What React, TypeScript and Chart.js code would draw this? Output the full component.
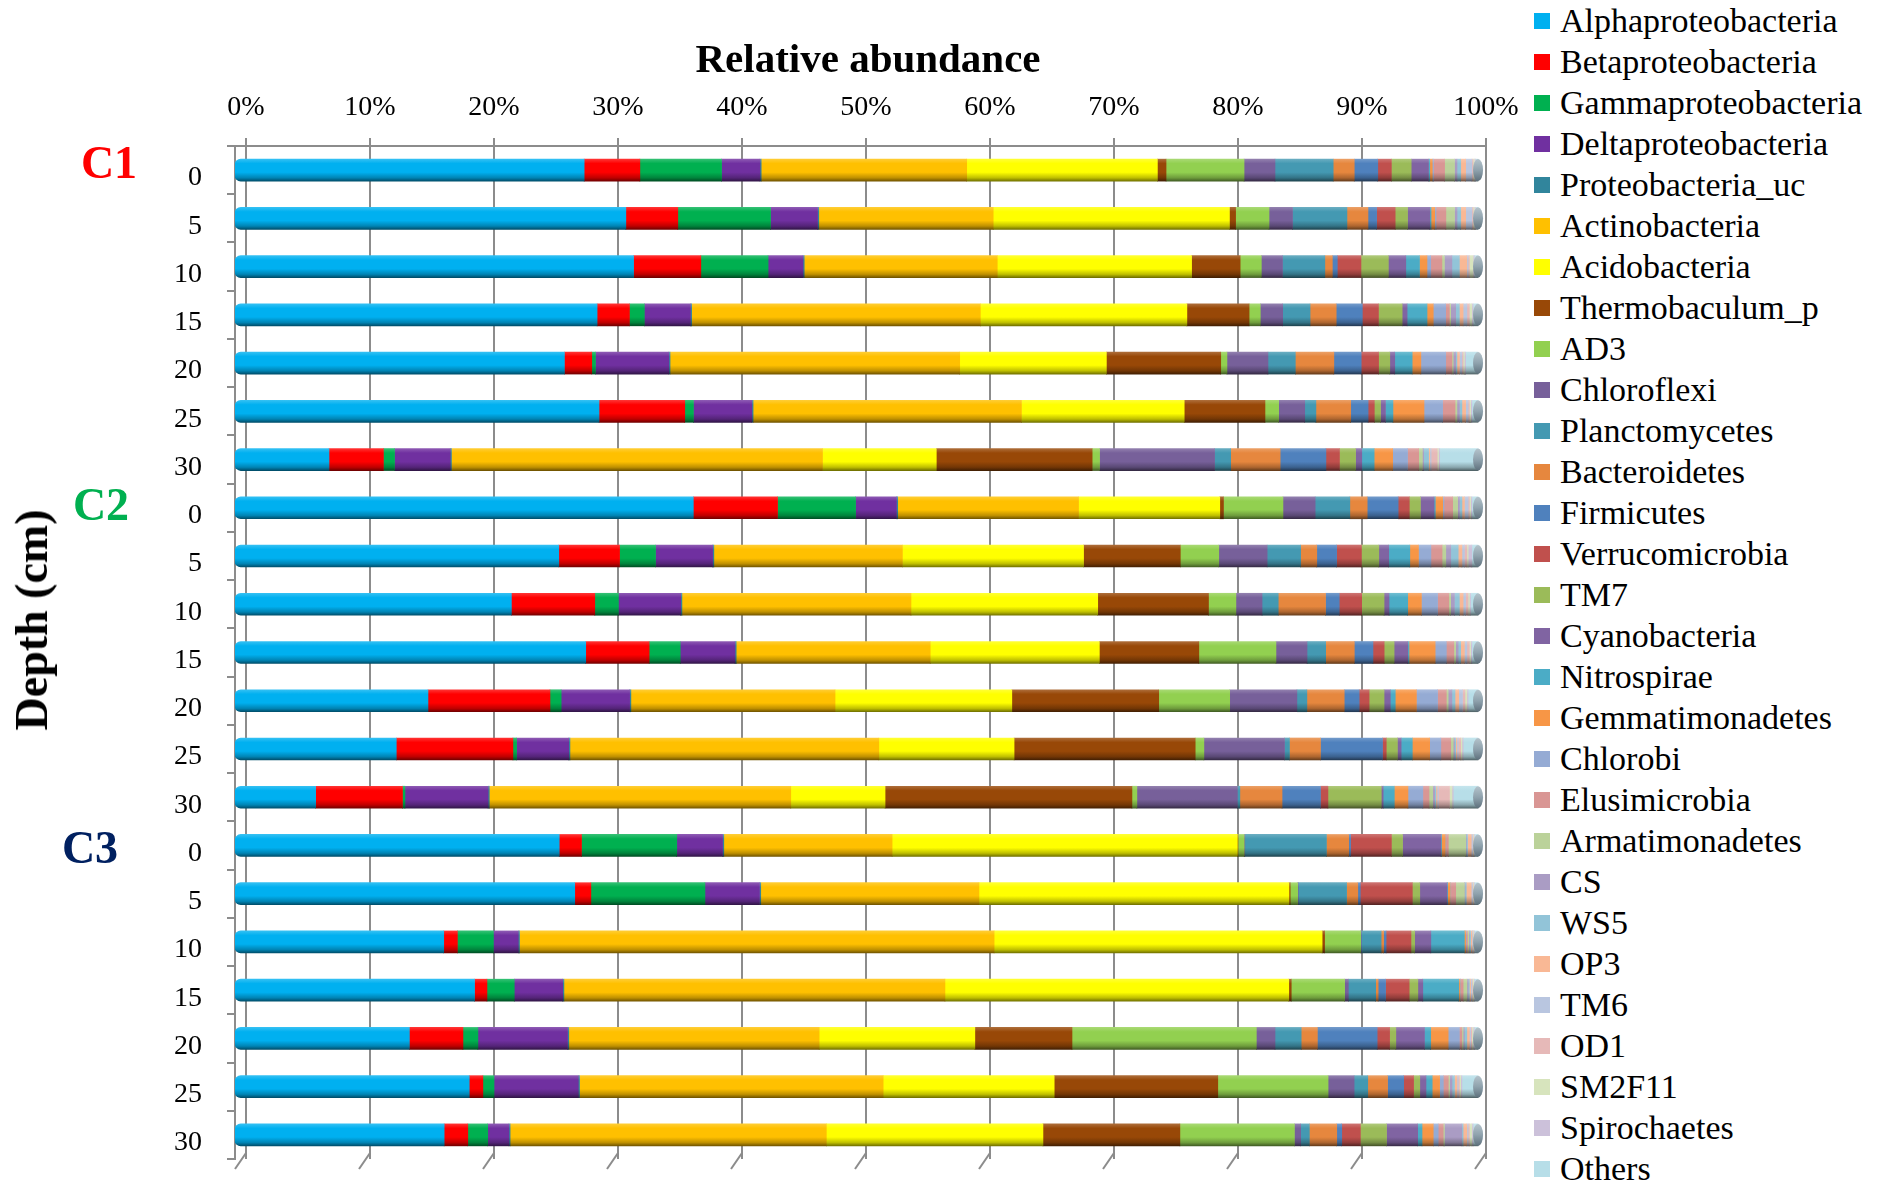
import React, { useEffect, useRef } from "react";
import { Chart, registerables } from "chart.js";

Chart.register(...registerables);

// ---------- data ----------
const depthLabels = ["0", "5", "10", "15", "20", "25", "30", "0", "5", "10", "15", "20", "25", "30", "0", "5", "10", "15", "20", "25", "30"];
const coreNames = ["C1", "C2", "C3"];
const coreColors = ["#FF0000", "#00B050", "#002060"];
const tickValues = [0, 10, 20, 30, 40, 50, 60, 70, 80, 90, 100];

const seriesNames = [
  "Alphaproteobacteria", "Betaproteobacteria", "Gammaproteobacteria", "Deltaproteobacteria",
  "Proteobacteria_uc", "Actinobacteria", "Acidobacteria", "Thermobaculum_p", "AD3", "Chloroflexi",
  "Planctomycetes", "Bacteroidetes", "Firmicutes", "Verrucomicrobia", "TM7", "Cyanobacteria",
  "Nitrospirae", "Gemmatimonadetes", "Chlorobi", "Elusimicrobia", "Armatimonadetes", "CS", "WS5",
  "OP3", "TM6", "OD1", "SM2F11", "Spirochaetes", "Others",
];
const seriesColors = [
  "#00B0F0", "#FF0000", "#00B050", "#7030A0", "#31859C", "#FFC000", "#FFFF00", "#984807", "#92D050",
  "#77609A", "#4499B2", "#E6873E", "#4F81BD", "#C0504D", "#9BBB59", "#8064A2", "#4BACC6", "#F79646",
  "#95ABD4", "#D99694", "#BBD29A", "#AA9CC4", "#92C4D8", "#F9B895", "#B9C6E0", "#E6B9B8", "#D7E4BD",
  "#CCC1DA", "#B7DEE8",
];

const alpha = [28.2, 31.6, 32.0, 29.1, 26.5, 29.3, 7.6, 37.0, 26.1, 22.2, 28.2, 15.5, 13.0, 6.5, 26.2, 27.4, 16.8, 19.3, 14.0, 18.9, 16.8];
const beta = [4.5, 4.2, 5.4, 2.6, 2.2, 6.9, 4.4, 6.8, 4.9, 6.7, 5.1, 9.8, 9.4, 7.0, 1.8, 1.3, 1.1, 1.0, 4.3, 1.1, 1.9];
const gamma = [6.6, 7.5, 5.4, 1.2, 0.3, 0.7, 0.9, 6.3, 2.9, 1.9, 2.5, 0.9, 0.3, 0.2, 7.7, 9.2, 2.9, 2.2, 1.2, 0.9, 1.6];
const delta = [3.1, 3.8, 2.8, 3.7, 5.9, 4.7, 4.5, 3.3, 4.6, 5.0, 4.4, 5.5, 4.2, 6.7, 3.7, 4.4, 2.0, 3.9, 7.2, 6.8, 1.7];
const proteoUc = [0.1, 0.1, 0.1, 0.1, 0.1, 0.1, 0.1, 0.1, 0.1, 0.1, 0.1, 0.1, 0.1, 0.1, 0.1, 0.1, 0.1, 0.1, 0.1, 0.1, 0.1];
const actino = [16.6, 14.1, 15.5, 23.2, 23.3, 21.6, 30.0, 14.6, 15.2, 18.4, 15.6, 16.4, 24.9, 24.3, 13.6, 17.6, 38.2, 30.7, 20.1, 24.5, 25.4];
const acido = [15.4, 19.1, 15.6, 16.6, 11.8, 13.1, 9.2, 11.4, 14.6, 15.0, 13.6, 14.2, 10.9, 7.6, 27.9, 25.0, 26.4, 27.7, 12.5, 13.8, 17.4];
const thermo = [0.7, 0.5, 3.9, 5.0, 9.2, 6.5, 12.6, 0.3, 7.8, 8.9, 8.0, 11.8, 14.6, 19.9, 0.05, 0.1, 0.2, 0.2, 7.8, 13.2, 11.0];
const ad3 = [6.3, 2.7, 1.7, 0.9, 0.5, 1.1, 0.6, 4.8, 3.1, 2.2, 6.2, 5.7, 0.7, 0.4, 0.5, 0.6, 2.9, 4.3, 14.8, 8.9, 9.2];
const chloroflexi = [2.5, 1.9, 1.7, 1.8, 3.3, 2.1, 9.3, 2.6, 3.9, 2.1, 2.5, 5.4, 6.5, 8.1, 0.05, 0.05, 0.05, 0.3, 1.5, 2.1, 0.5];
const plancto = [4.7, 4.4, 3.4, 2.2, 2.2, 0.9, 1.3, 2.8, 2.7, 1.3, 1.5, 0.8, 0.4, 0.2, 6.6, 3.9, 1.6, 2.2, 2.1, 1.1, 0.7];
const bactero = [1.7, 1.7, 0.6, 2.1, 3.1, 2.8, 4.0, 1.4, 1.3, 3.8, 2.3, 3.0, 2.5, 3.4, 1.8, 0.9, 0.2, 0.2, 1.3, 1.6, 2.2];
const firmi = [1.9, 0.7, 0.4, 2.1, 2.2, 1.4, 3.7, 2.5, 1.6, 1.1, 1.5, 1.2, 5.0, 3.1, 0.15, 0.2, 0.2, 0.6, 4.8, 1.3, 0.4];
const verruco = [1.1, 1.5, 1.9, 1.3, 1.4, 0.5, 1.1, 0.9, 2.0, 1.8, 0.9, 0.8, 0.3, 0.6, 3.3, 4.2, 2.0, 1.9, 1.0, 0.8, 1.5];
const tm7 = [1.6, 1.0, 2.2, 1.9, 0.9, 0.5, 1.3, 0.9, 1.4, 1.8, 0.8, 1.2, 0.9, 4.3, 0.9, 0.6, 0.3, 0.7, 0.5, 0.5, 2.1];
const cyano = [1.4, 1.8, 1.4, 0.4, 0.4, 0.4, 0.5, 1.1, 0.8, 0.4, 1.1, 0.5, 0.3, 0.15, 3.1, 2.2, 1.3, 0.4, 2.3, 0.5, 2.5];
const nitro = [0.1, 0.1, 1.1, 1.6, 1.4, 0.6, 1.0, 0.1, 1.7, 1.5, 0.1, 0.4, 0.9, 0.9, 0.05, 0.05, 2.7, 2.9, 0.5, 0.5, 0.35];
const gemma = [0.2, 0.3, 0.6, 0.5, 0.7, 2.5, 1.5, 0.6, 0.7, 1.1, 2.1, 1.7, 1.4, 1.1, 0.3, 0.2, 0.1, 0.1, 1.4, 0.6, 0.9];
const chlorobi = [0.1, 0.1, 0.3, 1.0, 2.0, 1.5, 1.2, 0.1, 1.0, 1.3, 0.9, 1.7, 0.9, 1.2, 0.05, 0.05, 0.05, 0.05, 0.9, 0.3, 0.4];
const elusi = [0.9, 0.8, 0.9, 0.3, 0.5, 1.0, 0.9, 0.7, 0.9, 0.9, 0.6, 0.7, 0.8, 0.5, 0.2, 0.4, 0.1, 0.2, 0.2, 0.4, 0.4];
const armat = [0.8, 0.7, 0.2, 0.1, 0.1, 0.15, 0.3, 0.4, 0.3, 0.15, 0.15, 0.15, 0.2, 0.3, 1.4, 0.7, 0.1, 0.3, 0.1, 0.1, 0.1];
const cs = [0.2, 0.2, 0.6, 0.4, 0.2, 0.2, 0.1, 0.15, 0.4, 0.3, 0.2, 0.3, 0.1, 0.15, 0.05, 0.05, 0.05, 0.1, 0.1, 0.2, 1.4];
const ws5 = [0.3, 0.3, 0.6, 0.3, 0.1, 0.2, 0.4, 0.2, 0.6, 0.4, 0.2, 0.25, 0.1, 0.1, 0.1, 0.1, 0.1, 0.1, 0.2, 0.2, 0.1];
const op3 = [0.4, 0.4, 0.6, 0.3, 0.2, 0.3, 0.1, 0.2, 0.3, 0.3, 0.3, 0.3, 0.1, 0.1, 0.3, 0.4, 0.1, 0.1, 0.2, 0.2, 0.3];
const tm6 = [0.5, 0.5, 0.1, 0.3, 0.2, 0.2, 0.1, 0.3, 0.2, 0.2, 0.2, 0.3, 0.1, 0.1, 0.1, 0.1, 0.05, 0.1, 0.1, 0.1, 0.1];
const od1 = [0.1, 0.1, 0.1, 0.2, 0.1, 0.1, 0.5, 0.1, 0.2, 0.2, 0.2, 0.2, 0.2, 0.9, 0.05, 0.05, 0.05, 0.05, 0.1, 0.1, 0.1];
const sm2f11 = [0.1, 0.1, 0.3, 0.2, 0.1, 0.1, 0.1, 0.1, 0.1, 0.1, 0.1, 0.15, 0.1, 0.2, 0.05, 0.05, 0.05, 0.1, 0.1, 0.1, 0.2];
const spiro = [0.1, 0.1, 0.1, 0.1, 0.1, 0.1, 0.1, 0.1, 0.3, 0.1, 0.1, 0.1, 0.1, 0.1, 0.05, 0.05, 0.05, 0.05, 0.1, 0.1, 0.1];
const others = [0.2, 0.2, 0.3, 0.4, 1.0, 0.5, 3.1, 0.5, 0.5, 0.6, 0.5, 0.8, 1.2, 2.0, 0.3, 0.3, 0.3, 0.3, 0.3, 1.3, 0.4];

const seriesValues = [
  alpha, beta, gamma, delta, proteoUc, actino, acido, thermo, ad3, chloroflexi, plancto, bactero,
  firmi, verruco, tm7, cyano, nitro, gemma, chlorobi, elusi, armat, cs, ws5, op3, tm6, od1, sm2f11,
  spiro, others,
];

// ---------- style helpers ----------
const SERIF = "'Liberation Serif', 'Times New Roman', serif";

function mix(hex: string, target: string, t: number): string {
  const p = (h: string) => [1, 3, 5].map((i) => parseInt(h.slice(i, i + 2), 16));
  const a = p(hex);
  const b = p(target);
  const c = a.map((v, i) => Math.round(v + (b[i] - v) * t));
  return "rgb(" + c.join(",") + ")";
}

function shaded(c: any, base: string): any {
  const chart = c.chart;
  const ys = chart.scales && chart.scales.y;
  if (!ys || c.type !== "data" || !chart.chartArea) return base;
  const yc = ys.getPixelForValue(c.dataIndex);
  const h = 11;
  const g = chart.ctx.createLinearGradient(0, yc - h, 0, yc + h);
  g.addColorStop(0, mix(base, "#ffffff", 0.2));
  g.addColorStop(0.2, base);
  g.addColorStop(0.6, base);
  g.addColorStop(0.85, mix(base, "#000000", 0.25));
  g.addColorStop(1, mix(base, "#000000", 0.55));
  return g;
}

const decorPlugin = {
  id: "decor",
  beforeDatasetsDraw(chart: any) {
    const { ctx, chartArea, scales } = chart;
    const x2 = scales.x2;
    ctx.save();
    ctx.strokeStyle = "#8c8c8c";
    ctx.lineWidth = 2;
    tickValues.forEach((v) => {
      const px = x2.getPixelForValue(v);
      ctx.beginPath();
      ctx.moveTo(px, chartArea.bottom - 6);
      ctx.lineTo(px - 11, chartArea.bottom + 10);
      ctx.stroke();
    });
    ctx.restore();
  },
  afterDatasetsDraw(chart: any) {
    const { ctx, scales } = chart;
    const x = scales.x;
    const y = scales.y;
    const px = x.getPixelForValue(100);
    ctx.save();
    depthLabels.forEach((_, i) => {
      const py = y.getPixelForValue(i);
      const g = ctx.createLinearGradient(0, py - 11, 0, py + 11);
      g.addColorStop(0, "#b4c3cb");
      g.addColorStop(0.5, "#8fa2ad");
      g.addColorStop(1, "#5e707c");
      ctx.beginPath();
      ctx.ellipse(px, py, 5, 11, 0, 0, Math.PI * 2);
      ctx.fillStyle = g;
      ctx.fill();
    });
    ctx.restore();
  },
};

export default function App() {
  const ref = useRef<HTMLCanvasElement>(null);

  useEffect(() => {
    if (!ref.current) return;
    const totals = depthLabels.map((_, i) => seriesValues.reduce((s, arr) => s + arr[i], 0));
    const datasets = seriesNames.map((name, k) => ({
      label: name,
      data: seriesValues[k].map((v, i) => (v / totals[i]) * 100),
      backgroundColor: (c: any) => shaded(c, seriesColors[k]),
      borderWidth: 0,
      barThickness: 22,
      borderSkipped: k === 0 ? false : "start",
      borderRadius: k === 0 ? { topLeft: 6, bottomLeft: 6, topRight: 0, bottomRight: 0 } : 0,
      xAxisID: "x",
      yAxisID: "y",
    }));

    const chart = new Chart(ref.current, {
      type: "bar",
      data: { labels: depthLabels, datasets: datasets as any },
      options: {
        responsive: false,
        animation: false,
        devicePixelRatio: 1,
        indexAxis: "y",
        layout: { padding: { left: 0, right: 39, top: 0, bottom: 23 } },
        plugins: {
          legend: { display: false },
          tooltip: { enabled: false },
          title: { display: false },
        },
        scales: {
          x: { type: "linear", stacked: true, min: 0, max: 100.64, display: false },
          x2: {
            type: "linear",
            position: "top",
            min: -0.887,
            max: 100,
            afterBuildTicks: (s: any) => {
              s.ticks = tickValues.map((v) => ({ value: v }));
            },
            afterFit: (s: any) => {
              s.height = 146;
              s.paddingLeft = 0;
              s.paddingRight = 0;
            },
            grid: { color: "#8c8c8c", lineWidth: 2, tickLength: 8, drawTicks: true },
            border: { display: true, color: "#8c8c8c", width: 2 },
            ticks: {
              callback: (v: any) => v + "%",
              font: { family: SERIF, size: 28 },
              color: "#000",
              padding: 14,
              maxRotation: 0,
              autoSkip: false,
            },
          } as any,
          y: {
            type: "category",
            stacked: true,
            position: "left",
            afterFit: (s: any) => {
              s.width = 235;
              s.paddingTop = 0;
              s.paddingBottom = 0;
            },
            grid: {
              display: true,
              drawOnChartArea: false,
              drawTicks: true,
              tickLength: 8,
              color: "#8c8c8c",
              lineWidth: 2,
              offset: true,
            },
            border: { display: true, color: "#8c8c8c", width: 2 },
            ticks: {
              font: { family: SERIF, size: 28 },
              color: "#000",
              padding: 25,
              labelOffset: 8,
              autoSkip: false,
            },
          } as any,
        },
      } as any,
      plugins: [decorPlugin],
    });
    return () => chart.destroy();
  }, []);

  const corePos = [
    { x: 109, y: 163 },
    { x: 101, y: 505 },
    { x: 90, y: 848 },
  ];

  return (
    <div
      style={{
        position: "absolute",
        left: 0,
        top: 0,
        width: 1879,
        height: 1182,
        background: "#ffffff",
        overflow: "hidden",
        fontFamily: SERIF,
        color: "#000",
      }}
    >
      <canvas ref={ref} width={1525} height={1182} style={{ position: "absolute", left: 0, top: 0, width: 1525, height: 1182 }} />
      <div
        style={{
          position: "absolute",
          left: 868,
          top: 58,
          transform: "translate(-50%, -50%)",
          fontSize: 41,
          fontWeight: "bold",
          lineHeight: "41px",
          whiteSpace: "nowrap",
        }}
      >
        Relative abundance
      </div>
      <div
        style={{
          position: "absolute",
          left: 32,
          top: 620,
          transform: "translate(-50%, -50%) rotate(-90deg)",
          fontSize: 46,
          fontWeight: "bold",
          lineHeight: "46px",
          whiteSpace: "nowrap",
        }}
      >
        Depth (cm)
      </div>
      {coreNames.map((name, i) => (
        <div
          key={name}
          style={{
            position: "absolute",
            left: corePos[i].x,
            top: corePos[i].y,
            transform: "translate(-50%, -50%)",
            fontSize: 46,
            fontWeight: "bold",
            lineHeight: "46px",
            color: coreColors[i],
            whiteSpace: "nowrap",
          }}
        >
          {name}
        </div>
      ))}
      <div style={{ position: "absolute", left: 1534, top: 0 }}>
        {seriesNames.map((name, k) => (
          <div
            key={name}
            style={{ height: 41, display: "flex", alignItems: "center", whiteSpace: "nowrap" }}
          >
            <span
              style={{
                display: "inline-block",
                width: 16,
                height: 16,
                background: seriesColors[k],
                marginRight: 10,
                flex: "none",
              }}
            />
            <span style={{ fontSize: 34, lineHeight: "41px" }}>{name}</span>
          </div>
        ))}
      </div>
    </div>
  );
}
